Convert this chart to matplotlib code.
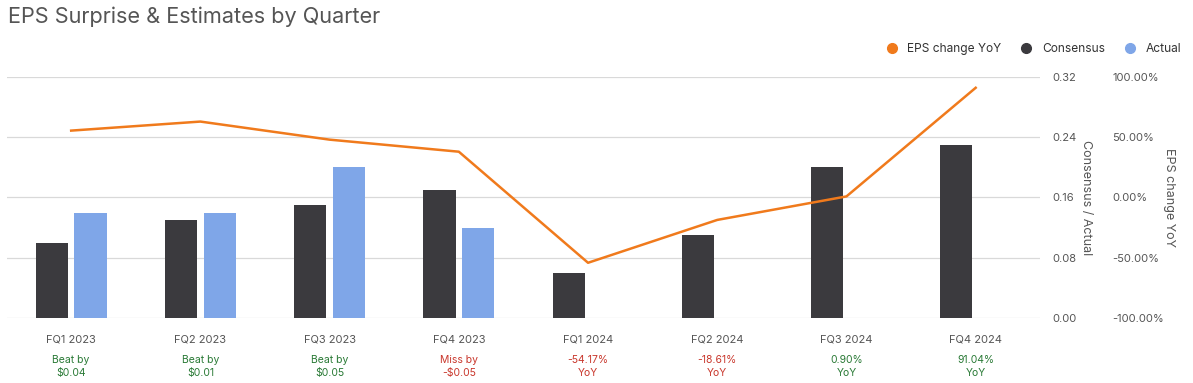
import numpy as np
import matplotlib.pyplot as plt
from matplotlib.lines import Line2D

plt.rcParams['font.family'] = ['Inter', 'DejaVu Sans']

quarters = ['FQ1 2023', 'FQ2 2023', 'FQ3 2023', 'FQ4 2023',
            'FQ1 2024', 'FQ2 2024', 'FQ3 2024', 'FQ4 2024']
consensus = [0.10, 0.13, 0.15, 0.17, 0.06, 0.11, 0.20, 0.23]
actual = [0.14, 0.14, 0.20, 0.12, None, None, None, None]
eps_yoy = [55.5, 63.0, 48.0, 38.0, -54.17, -18.61, 0.90, 91.04]
notes = ['Beat by\n$0.04', 'Beat by\n$0.01', 'Beat by\n$0.05', 'Miss by\n-$0.05',
         '-54.17%\nYoY', '-18.61%\nYoY', '0.90%\nYoY', '91.04%\nYoY']
note_good = [True, True, True, False, False, False, True, True]

c_cons = '#3b3a3e'
c_act = '#7fa6e8'
c_line = '#f07a1c'
c_green = '#2a7a36'
c_red = '#c9372c'
c_text = '#555555'

fig = plt.figure(figsize=(11.93, 3.83), dpi=100)
ax = fig.add_axes([0.0055, 0.1697, 0.8665, 0.6293])
ax2 = ax.twinx()
x = np.arange(len(quarters))
w = 0.25
ax.bar(x - 0.15, consensus, w, color=c_cons, zorder=3)
act_x = [i + 0.15 for i, a in zip(x, actual) if a is not None]
act_v = [a for a in actual if a is not None]
ax.bar(act_x, act_v, w, color=c_act, zorder=3)

ax.set_xlim(-0.5, len(quarters) - 0.5)
ax.set_ylim(0, 0.32)
ax.set_yticks([0, 0.08, 0.16, 0.24, 0.32])
ax.yaxis.tick_right()
ax.set_yticklabels(['0.00', '0.08', '0.16', '0.24', '0.32'], fontsize=8, color=c_text)
ax.tick_params(axis='y', length=0, pad=9)
ax.tick_params(axis='x', length=0, pad=12)
ax.set_xticks(x)
ax.set_xticklabels(quarters, fontsize=8, color=c_text)
ax.grid(axis='y', color='#d9d9d9', linewidth=0.9, zorder=0)
for s in ax.spines.values():
    s.set_visible(False)
ax.yaxis.set_label_position('right')
ax.set_ylabel('Consensus / Actual', rotation=270, fontsize=9, color=c_text, labelpad=11)

ax2.plot(x, eps_yoy, color=c_line, linewidth=1.8, zorder=4)
ax2.set_ylim(-100, 100)
ax2.set_yticks([-100, -50, 0, 50, 100])
ax2.set_yticklabels(['-100.00%', '-50.00%', '0.00%', '50.00%', '100.00%'],
                    fontsize=8, color=c_text)
ax2.tick_params(axis='y', length=0, pad=52)
for s in ax2.spines.values():
    s.set_visible(False)
ax2.set_ylabel('EPS change YoY', rotation=270, fontsize=9, color=c_text, labelpad=8)

for i, (n, g) in enumerate(zip(notes, note_good)):
    ax.annotate(n, (i, 0), xytext=(0, -35), textcoords='offset points',
                ha='center', va='center', fontsize=7.5,
                color=c_green if g else c_red, linespacing=1.3,
                annotation_clip=False)

fig.text(0.0067, 0.955, 'EPS Surprise & Estimates by Quarter', fontsize=15.6,
         color=c_text, va='center', ha='left')

handles = [Line2D([], [], marker='o', linestyle='', color=c, markersize=7)
           for c in (c_line, c_cons, c_act)]
fig.legend(handles, ['EPS change YoY', 'Consensus', 'Actual'], loc='center right',
           bbox_to_anchor=(0.999, 0.872), ncol=3, frameon=False, fontsize=8.6,
           handletextpad=0.3, columnspacing=1.1, labelcolor='#333333')

fig.savefig('out.png', dpi=100)
